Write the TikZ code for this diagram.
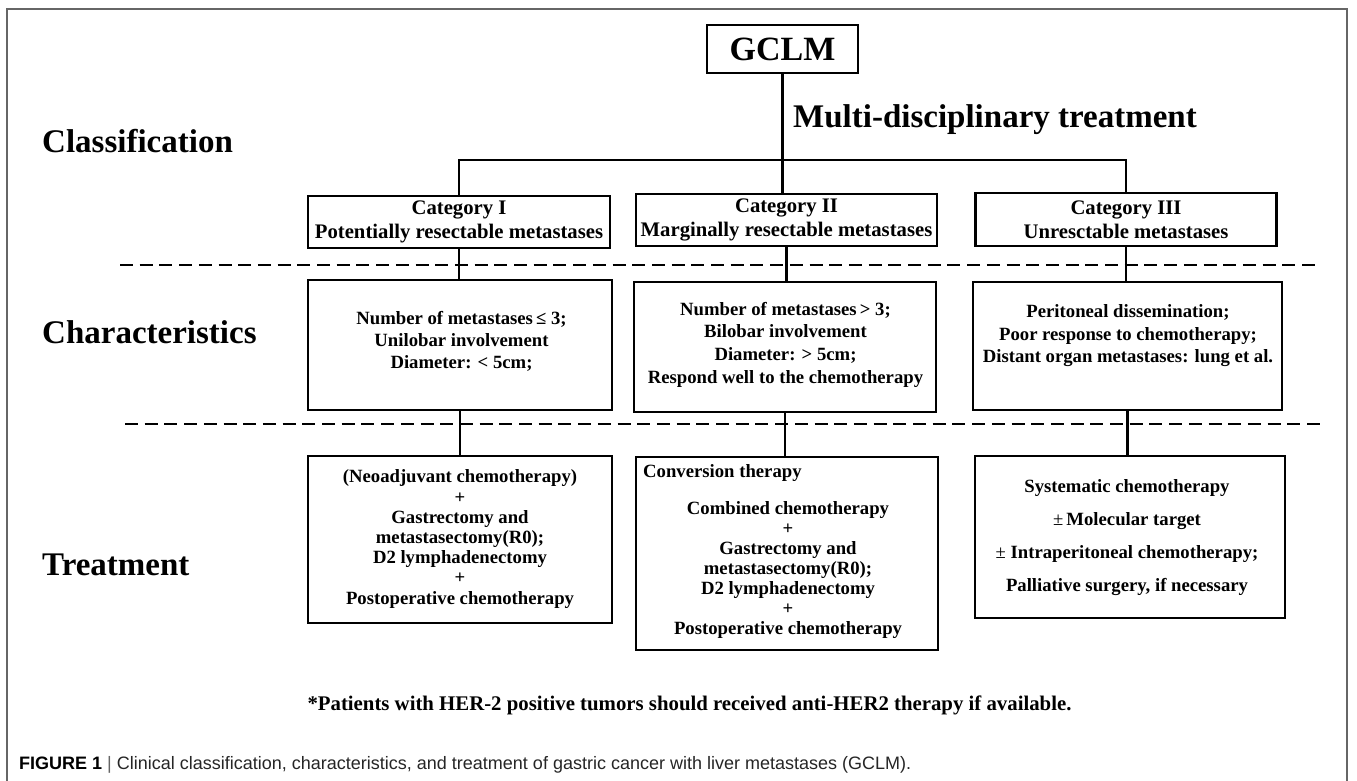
\documentclass[tikz,border=0pt]{standalone}
\usepackage{fontspec}
\setmainfont{Liberation Serif}
\newfontfamily\capfont{Liberation Sans}
\begin{document}
\begin{tikzpicture}[x=1pt,y=-1pt,
  box/.style={draw, line width=2.6pt, inner sep=0pt},
  conn/.style={line width=2.4pt},
  sepline/.style={line width=2pt, dash pattern=on 13pt off 6.7pt},
  boxtext/.style={align=center, inner sep=0pt, font=\bfseries\fontsize{18.7}{22.3}\selectfont},
  cattext/.style={align=center, font=\bfseries\fontsize{20.7}{24.5}\selectfont},
  lab/.style={anchor=base west, inner sep=0pt, font=\bfseries\fontsize{33}{36}\selectfont}]
\useasboundingbox (0,0) rectangle (1357,781);
\fill[white] (0,0) rectangle (1357,781);
\draw[line width=1.5pt, black!60] (7,795) -- (7,9) -- (1347,9) -- (1347,795);

% top
\node[box, minimum width=151pt, minimum height=48pt, font=\bfseries\fontsize{34}{36}\selectfont] (gclm) at (782.5,49) {GCLM};
\node[lab] (mdt) at (793,127.7) {Multi-disciplinary treatment};

% row labels
\node[lab] (lclass) at (42,152.3) {Classification};
\node[lab] (lchar) at (42,343.5) {Characteristics};
\node[lab] (ltreat) at (42,575) {Treatment};

% categories
\node[box, cattext, minimum width=302pt, minimum height=52pt] (cat1) at (459,222) {Category I\\Potentially resectable metastases};
\node[box, cattext, minimum width=301pt, minimum height=52pt] (cat2) at (786.5,220) {Category II\\Marginally resectable metastases};
\node[box, cattext, minimum width=301pt, minimum height=53pt] (cat3) at (1126,219.5) {Category III\\Unresctable metastases};

% characteristics boxes
\node[box, minimum width=304pt, minimum height=130pt] (char1) at (460,345) {};
\node[box, minimum width=302pt, minimum height=130pt] (char2) at (785,347) {};
\node[box, minimum width=309pt, minimum height=128pt] (char3) at (1127.5,346) {};
\node[boxtext, font=\bfseries\fontsize{18.7}{22}\selectfont] (char1t) at (461.5,341) {Number of metastases\,≤ 3;\\Unilobar involvement\\Diameter: < 5cm;};
\node[boxtext, font=\bfseries\fontsize{18.7}{22.7}\selectfont] (char2t) at (785.5,344.7) {Number of metastases\,> 3;\\Bilobar involvement\\Diameter: > 5cm;\\Respond well to the chemotherapy};
\node[boxtext, font=\bfseries\fontsize{18.7}{22.5}\selectfont] (char3t) at (1128,336) {Peritoneal dissemination;\\Poor response to chemotherapy;\\Distant organ metastases: lung et al.};

% treatment boxes
\node[box, minimum width=304pt, minimum height=167pt] (treat1) at (460,539.5) {};
\node[box, minimum width=302pt, minimum height=193pt] (treat2) at (787,553.5) {};
\node[box, minimum width=310pt, minimum height=162pt] (treat3) at (1130,537) {};
\node[boxtext, font=\bfseries\fontsize{18.7}{20.2}\selectfont] (treat1t) at (460,539) {(Neoadjuvant chemotherapy)\\+\\Gastrectomy and\\metastasectomy(R0);\\D2 lymphadenectomy\\+\\Postoperative chemotherapy};
\node[anchor=base west, inner sep=0pt, font=\bfseries\fontsize{18.7}{20}\selectfont] (treat2h) at (643,477) {Conversion therapy};
\node[boxtext, font=\bfseries\fontsize{18.7}{20}\selectfont] (treat2t) at (788,570) {Combined chemotherapy\\+\\Gastrectomy and\\metastasectomy(R0);\\D2 lymphadenectomy\\+\\Postoperative chemotherapy};
\node[boxtext, font=\bfseries\fontsize{18.7}{33.3}\selectfont] (treat3t) at (1127,537.6) {Systematic chemotherapy\\{\mdseries ±}\,Molecular target\\{\mdseries ±} Intraperitoneal chemotherapy;\\Palliative surgery, if necessary};

% connectors
\coordinate (hl) at (459,160);
\draw[conn] (gclm.south) -- (gclm.south |- cat2.north);
\draw[conn] (cat1.north) -- (cat1.north |- hl) -- (cat3.north |- hl) -- (cat3.north);
\draw[conn] (cat1.south) -- (cat1.south |- char1.north);
\draw[conn] (cat2.south) -- (cat2.south |- char2.north);
\draw[conn] (cat3.south) -- (cat3.south |- char3.north);
\draw[conn] (char1.south) -- (char1.south |- treat1.north);
\draw[conn] (char2.south) -- (char2.south |- treat2.north);
\draw[conn] (char3.south) -- (char3.south |- treat3.north);

% dashed separators
\coordinate (d1l) at (120,264.5);
\coordinate (d1r) at (1320,264.5);
\coordinate (d2l) at (125,423.5);
\coordinate (d2r) at (1323,423.5);
\draw[sepline] (d1l) -- (d1r);
\draw[sepline] (d2l) -- (d2r);

% footnote and caption
\node[anchor=base, inner sep=0pt, font=\bfseries\fontsize{20.8}{24}\selectfont] (note) at (689.5,710) {*Patients with HER-2 positive tumors should received anti-HER2 therapy if available.};
\node[anchor=base west, inner sep=0pt, font=\capfont\fontsize{18}{20}\selectfont, text=black!85] (cap) at (19,769) {\textbf{\color{black}FIGURE 1} {\color{black!60}|} Clinical classification, characteristics, and treatment of gastric cancer with liver metastases (GCLM).};
\end{tikzpicture}
\end{document}
